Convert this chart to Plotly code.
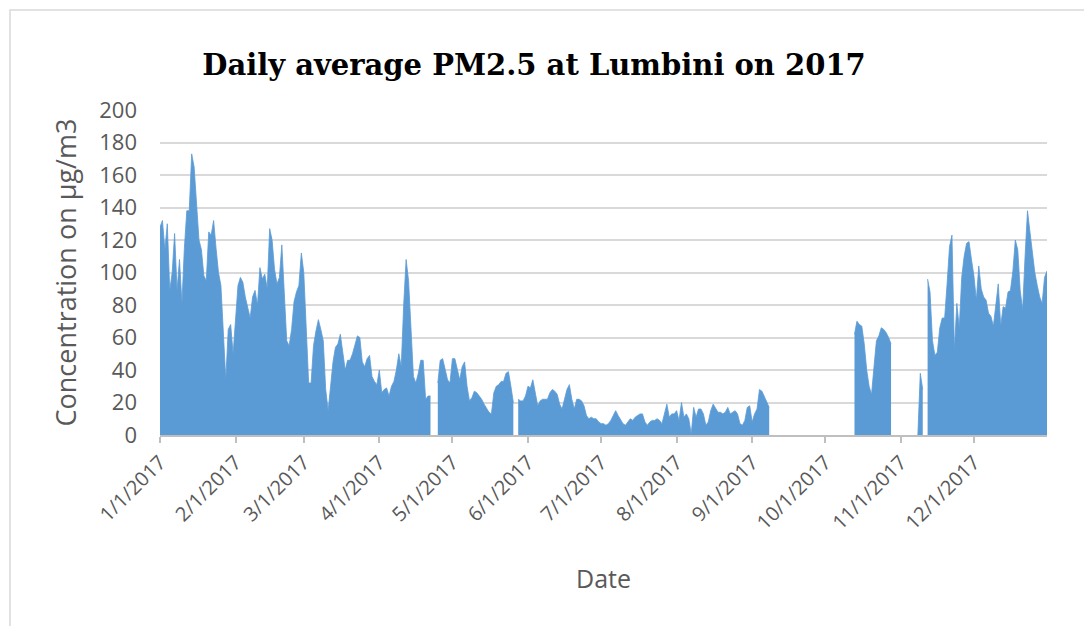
import pandas as pd
import plotly.graph_objects as go

N = None
jan = [128, 132, 114, 130, 89, 100, 124, 89, 108, 81, 115, 138, 138, 173, 165, 143,
       120, 114, 98, 95, 125, 123, 132, 115, 100, 92, 60, 34, 65, 68, 50]
feb = [72, 92, 97, 94, 85, 79, 72, 85, 89, 80, 103, 96, 99, 90, 127, 120, 102, 93,
       97, 117, 85, 58, 55, 65, 82, 88, 92, 112]
mar = [100, 65, 32, 32, 55, 64, 71, 65, 58, 28, 15, 30, 45, 54, 56, 62, 50, 40, 46,
       46, 50, 56, 61, 60, 45, 42, 47, 49, 36, 33, 31]
apr = [40, 26, 28, 29, 24, 30, 33, 40, 50, 42, 80, 108, 95, 65, 36, 32, 38, 46, 46,
       22, 24, 24, N, N, 32, 46, 47, 40, 34, 32]
may = [47, 47, 40, 34, 42, 45, 30, 21, 23, 27, 26, 24, 22, 19, 16, 14, 13, 26, 30,
       31, 33, 33, 38, 39, 30, 20, N, 22, 21, 21, 24]
jun = [30, 29, 34, 25, 18, 21, 22, 22, 22, 26, 28, 27, 25, 19, 16, 22, 28, 31, 22,
       16, 22, 22, 21, 18, 12, 10, 11, 10, 10, 8]
jul = [7, 7, 6, 7, 9, 12, 15, 12, 9, 7, 6, 8, 10, 9, 11, 12, 13, 13, 8, 6, 8, 9, 9,
       10, 9, 7, 13, 19, 11, 13, 13]
aug = [15, 9, 20, 11, 13, 10, 0.5, 17, 11, 16, 16, 13, 6, 8, 15, 19, 16, 14, 14, 13,
       14, 17, 13, 14, 15, 13, 7, 6, 9, 17, 18]
sep = [8, 13, 16, 28, 27, 24, 20, 17] + [N] * 22
octo = [N] * 12 + [62, 70, 68, 67, 56, 40, 30, 25, 42, 58, 61, 66, 65, 63, 60, 56] + [N] * 3
nov = [N] * 7 + [0, 38, 28, N, 96, 88, 58, 49, 51, 66, 72, 72, 93, 116, 123, 52, 81,
                 66, 97, 110, 118, 119, 108]
dec = [98, 83, 104, 90, 85, 83, 75, 73, 67, 80, 93, 67, 79, 78, 88, 89, 101, 120,
       114, 89, 77, 110, 138, 125, 112, 100, 92, 85, 81, 97, 101]

values = jan + feb + mar + apr + may + jun + jul + aug + sep + octo + nov + dec
dates = pd.date_range("2017-01-01", periods=len(values), freq="D")

tick_dates = pd.date_range("2017-01-01", "2017-12-01", freq="MS")
tick_labels = [f"{d.month}/1/2017" for d in tick_dates]

blue = "#5b9bd5"
grey_text = "#595959"

# split the series into contiguous runs so missing days leave empty gaps
segments, cur = [], []
for d, v in zip(dates, values):
    if v is None:
        if cur:
            segments.append(cur)
        cur = []
    else:
        cur.append((d, v))
if cur:
    segments.append(cur)

fig = go.Figure()
for seg in segments:
    fig.add_trace(go.Scatter(
        x=[p[0] for p in seg], y=[p[1] for p in seg], mode="lines", fill="tozeroy",
        line=dict(color=blue, width=0.8), fillcolor=blue,
        hoverinfo="x+y", showlegend=False,
    ))

# page body adds an 8px offset
W, H = 1092, 626
ox, oy = 8, 8
pl, pr, pt, pb = 160, 1047, 110, 435
fig.update_layout(
    width=W, height=H,
    margin=dict(l=pl - ox, r=W + ox - pr, t=pt - oy, b=H + oy - pb, autoexpand=False),
    paper_bgcolor="white", plot_bgcolor="white",
    title=dict(
        text="<b>Daily average PM2.5 at Lumbini on 2017</b>",
        font=dict(family="DejaVu Serif", size=29, color="#000000"),
        x=(534 - ox) / W, xanchor="center", y=1 - (65 - oy) / H, yanchor="middle",
    ),
    xaxis=dict(
        type="date", range=["2017-01-01", "2017-12-31"],
        tickvals=tick_dates, ticktext=tick_labels, tickangle=-45,
        tickfont=dict(family="Open Sans", size=20, color=grey_text),
        ticks="outside", ticklen=6, tickcolor="#bfbfbf", tickwidth=1.5,
        showline=True, linecolor="#bfbfbf", linewidth=1.5,
        showgrid=False, zeroline=False,
        title=dict(text="Date", font=dict(family="Open Sans", size=25, color=grey_text),
                   standoff=36),
    ),
    yaxis=dict(
        range=[0, 200], dtick=20, tick0=0,
        tickfont=dict(family="Open Sans", size=22, color=grey_text),
        ticklabelstandoff=22,
        showgrid=True, gridcolor="#d9d9d9", gridwidth=1.8,
        zeroline=False, showline=False,
        title=dict(text="Concentration on µg/m3",
                   font=dict(family="Open Sans", size=27, color=grey_text),
                   standoff=14),
    ),
    shapes=[dict(type="rect", xref="paper", yref="paper",
                 x0=(10 - pl) / (pr - pl), x1=1.2, y0=-1.0, y1=(pb - 10) / (pb - pt),
                 line=dict(color="#d9d9d9", width=1.5), fillcolor="rgba(0,0,0,0)",
                 layer="below")],
)

fig.write_html("out.html")
